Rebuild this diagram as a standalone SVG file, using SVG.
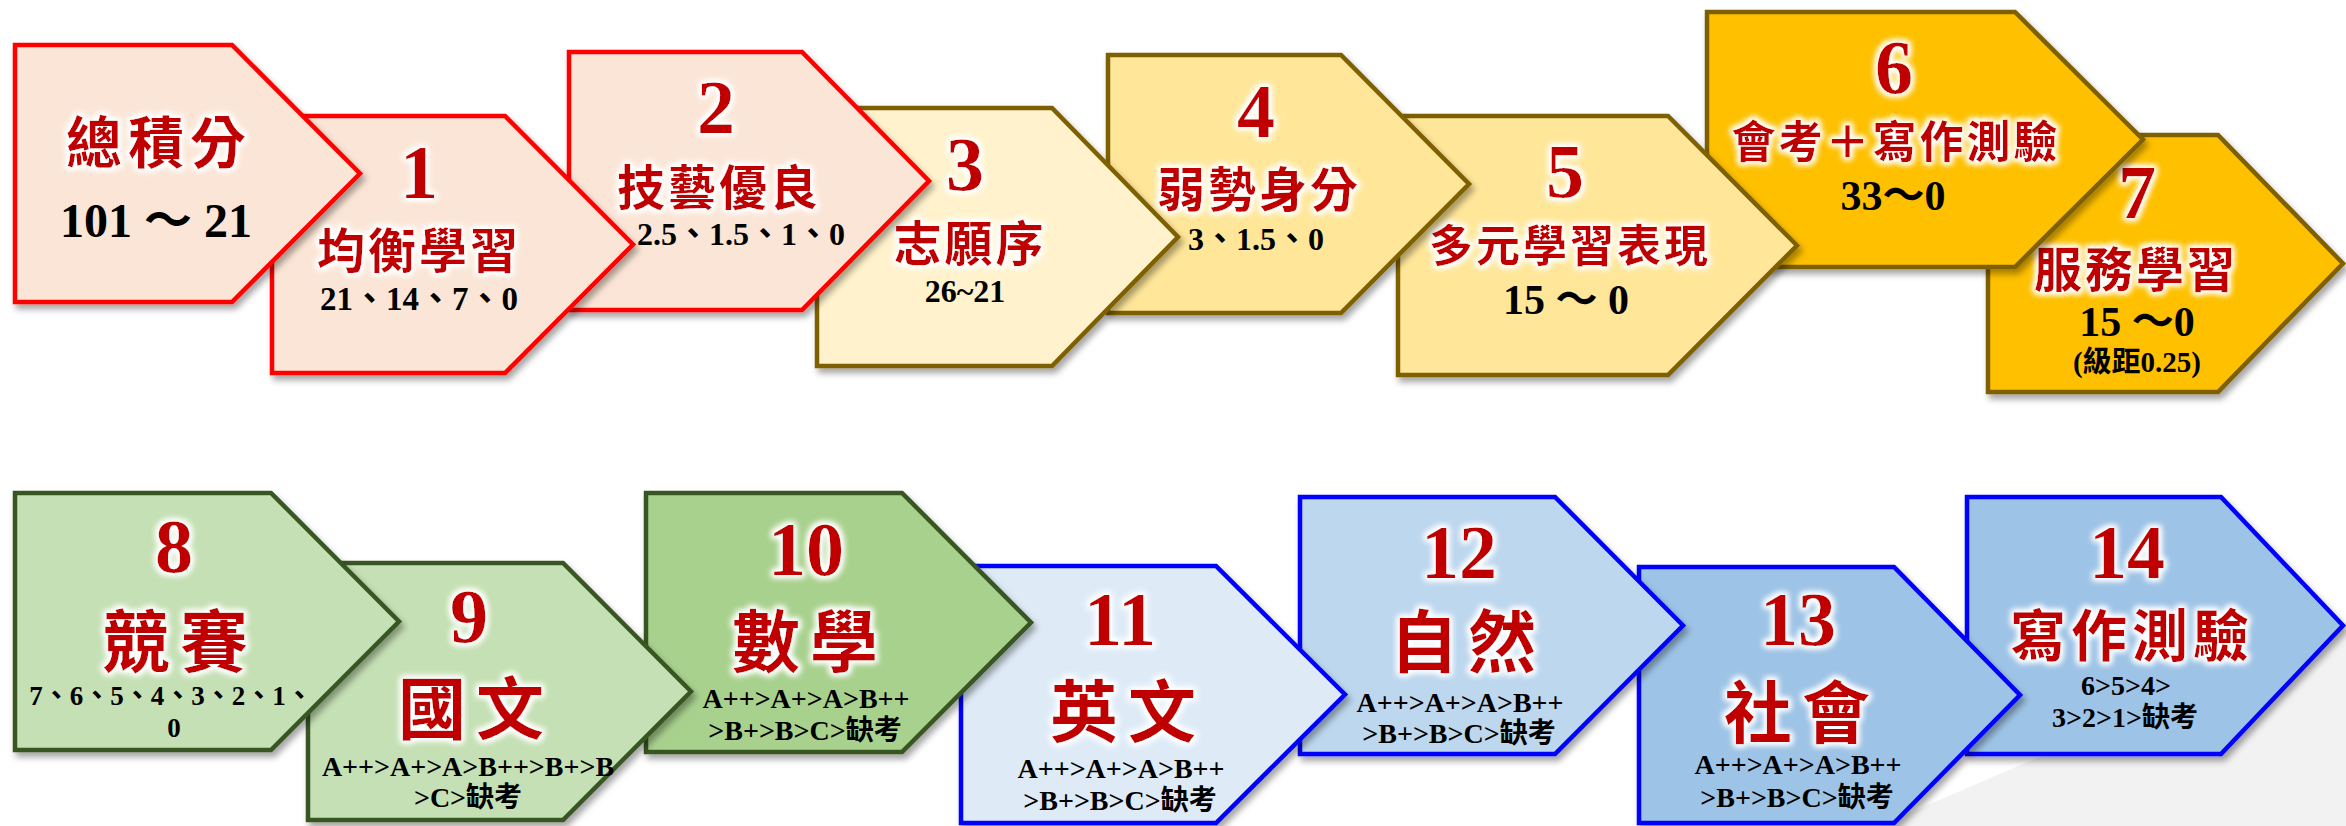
<svg xmlns="http://www.w3.org/2000/svg" width="2346" height="826" viewBox="0 0 2346 826">
<defs>
<filter id="shadow" x="-10%" y="-10%" width="125%" height="130%">
<feDropShadow dx="3" dy="5" stdDeviation="3" flood-color="#000" flood-opacity="0.35"/>
</filter>
<filter id="glow" x="-20%" y="-30%" width="140%" height="160%">
<feMorphology in="SourceAlpha" operator="dilate" radius="2" result="d"/>
<feGaussianBlur in="d" stdDeviation="3" result="b"/>
<feFlood flood-color="#ffffff"/>
<feComposite in2="b" operator="in" result="g"/>
<feMerge><feMergeNode in="g"/><feMergeNode in="g"/><feMergeNode in="SourceGraphic"/></feMerge>
</filter>
<style>
.sh{filter:url(#shadow);stroke-width:4.5;stroke-linejoin:miter}
.red{fill:#FBE5D6;stroke:#FF0000}
.y1{fill:#FFF2CC;stroke:#7F6000}
.y2{fill:#FFE699;stroke:#7F6000}
.y3{fill:#FFC000;stroke:#7F6000}
.g1{fill:#C5E0B4;stroke:#385723}
.g2{fill:#A9D18E;stroke:#385723}
.b1{fill:#DEEBF7;stroke:#0000FF}
.b2{fill:#BDD7EE;stroke:#0000FF}
.b3{fill:#9DC3E6;stroke:#0000FF}
text{text-anchor:middle}
.num{font-family:"Liberation Serif",serif;font-weight:700;font-size:76px;fill:#C00000;filter:url(#glow)}
.tt{font-family:"Noto Sans CJK TC","Noto Sans CJK SC",sans-serif;font-weight:700;font-size:48px;fill:#C00000;filter:url(#glow);letter-spacing:3px}
.tb{font-family:"Noto Sans CJK TC","Noto Sans CJK SC",sans-serif;font-weight:700;font-size:68px;fill:#C00000;filter:url(#glow);letter-spacing:10px}
.v{font-family:"Liberation Serif","Noto Sans CJK TC",serif;font-weight:700;fill:#000}
</style>
</defs>
<rect width="2346" height="826" fill="#FFFFFF"/>
<polygon points="1879,826 2346,625 2346,826" fill="#F2F2F2"/>
<g id="connectors"/>
<!-- top row, drawn back to front -->
<g id="node7">
<polygon class="sh y3" points="1988,135 2218,135 2343,263.5 2218,392 1988,392"/>
<text class="num" x="2137" y="218">7</text>
<text class="tt" x="2136" y="287">服務學習</text>
<text class="v" x="2137" y="336" style="font-size:42px">15 ～0</text>
<text class="v" x="2137" y="372" style="font-size:29px">(級距0.25)</text>
</g>
<g id="node6">
<polygon class="sh y3" points="1707,12 2015,12 2143,139.5 2015,267 1707,267"/>
<text class="num" x="1894" y="93">6</text>
<text class="tt" x="1896" y="158" style="font-size:44px">會考＋寫作測驗</text>
<text class="v" x="1893" y="210" style="font-size:42px">33～0</text>
</g>
<g id="node5">
<polygon class="sh y2" points="1398,116 1668,116 1797,245.5 1668,375 1398,375"/>
<text class="num" x="1565" y="197">5</text>
<text class="tt" x="1570" y="262" style="font-size:44px">多元學習表現</text>
<text class="v" x="1566" y="314" style="font-size:42px">15 ～ 0</text>
</g>
<g id="node4">
<polygon class="sh y2" points="1108,55 1341,55 1469,184 1341,313 1108,313"/>
<text class="num" x="1256" y="137">4</text>
<text class="tt" x="1259" y="207">弱勢身分</text>
<text class="v" x="1256" y="250" style="font-size:32px">3、1.5、0</text>
</g>
<g id="node3">
<polygon class="sh y1" points="817,108 1052,108 1178,237 1052,366 817,366"/>
<text class="num" x="965" y="190">3</text>
<text class="tt" x="970" y="261">志願序</text>
<text class="v" x="965" y="302" style="font-size:32px">26~21</text>
</g>
<g id="node2">
<polygon class="sh red" points="569,52 802,52 929,181 802,310 569,310"/>
<text class="num" x="716" y="133">2</text>
<text class="tt" x="719" y="205">技藝優良</text>
<text class="v" x="741" y="245" style="font-size:32px">2.5、1.5、1、0</text>
</g>
<g id="node1">
<polygon class="sh red" points="272,116 505,116 633,244.5 505,373 272,373"/>
<text class="num" x="419" y="198">1</text>
<text class="tt" x="419" y="268">均衡學習</text>
<text class="v" x="419" y="310" style="font-size:33px">21、14、7、0</text>
</g>
<g id="node0">
<polygon class="sh red" points="15,45 232,45 360,173.5 232,302 15,302"/>
<text class="tt" x="159" y="163" style="font-size:56px;letter-spacing:6px">總積分</text>
<text class="v" x="156" y="237" style="font-size:48px">101 ～ 21</text>
</g>
<!-- bottom row -->
<g id="node14">
<polygon class="sh b3" points="1967,497 2221,497 2343,625.5 2221,754 1967,754"/>
<text class="num" x="2127" y="578">14</text>
<text class="tt" x="2132" y="656" style="font-size:56px;letter-spacing:5px">寫作測驗</text>
<text class="v" x="2126" y="695" style="font-size:28px">6&gt;5&gt;4&gt;</text>
<text class="v" x="2125" y="727" style="font-size:28px">3&gt;2&gt;1&gt;缺考</text>
</g>
<g id="node13">
<polygon class="sh b3" points="1639,567 1894,567 2020,695 1894,823 1639,823"/>
<text class="num" x="1798" y="645">13</text>
<text class="tb" x="1802" y="738">社會</text>
<text class="v" x="1798" y="774" style="font-size:28px">A++&gt;A+&gt;A&gt;B++</text>
<text class="v" x="1797" y="807" style="font-size:28px">&gt;B+&gt;B&gt;C&gt;缺考</text>
</g>
<g id="node12">
<polygon class="sh b2" points="1300,497 1555,497 1683,625.5 1555,754 1300,754"/>
<text class="num" x="1459" y="578">12</text>
<text class="tb" x="1468" y="667">自然</text>
<text class="v" x="1460" y="712" style="font-size:28px">A++&gt;A+&gt;A&gt;B++</text>
<text class="v" x="1459" y="743" style="font-size:28px">&gt;B+&gt;B&gt;C&gt;缺考</text>
</g>
<g id="node11">
<polygon class="sh b1" points="961,566 1216,566 1345,694.5 1216,823 961,823"/>
<text class="num" x="1120" y="645">11</text>
<text class="tb" x="1128" y="737">英文</text>
<text class="v" x="1121" y="778" style="font-size:28px">A++&gt;A+&gt;A&gt;B++</text>
<text class="v" x="1120" y="810" style="font-size:28px">&gt;B+&gt;B&gt;C&gt;缺考</text>
</g>
<g id="node10">
<polygon class="sh g2" points="646,493 902,493 1031,622.5 902,752 646,752"/>
<text class="num" x="806" y="575">10</text>
<text class="tb" x="810" y="667">數學</text>
<text class="v" x="806" y="708" style="font-size:28px">A++&gt;A+&gt;A&gt;B++</text>
<text class="v" x="805" y="740" style="font-size:28px">&gt;B+&gt;B&gt;C&gt;缺考</text>
</g>
<g id="node9">
<polygon class="sh g1" points="308,563 563,563 691,691.5 563,820 308,820"/>
<text class="num" x="469" y="642">9</text>
<text class="tb" x="476" y="734">國文</text>
<text class="v" x="468" y="776" style="font-size:28px">A++&gt;A+&gt;A&gt;B++&gt;B+&gt;B</text>
<text class="v" x="468" y="807" style="font-size:28px">&gt;C&gt;缺考</text>
</g>
<g id="node8">
<polygon class="sh g1" points="15,493 271,493 399,621.5 271,750 15,750"/>
<text class="num" x="174" y="572">8</text>
<text class="tb" x="180" y="667">競賽</text>
<text class="v" x="171" y="705" style="font-size:27px">7、6、5、4、3、2、1、</text>
<text class="v" x="174" y="737" style="font-size:27px">0</text>
</g>
</svg>
